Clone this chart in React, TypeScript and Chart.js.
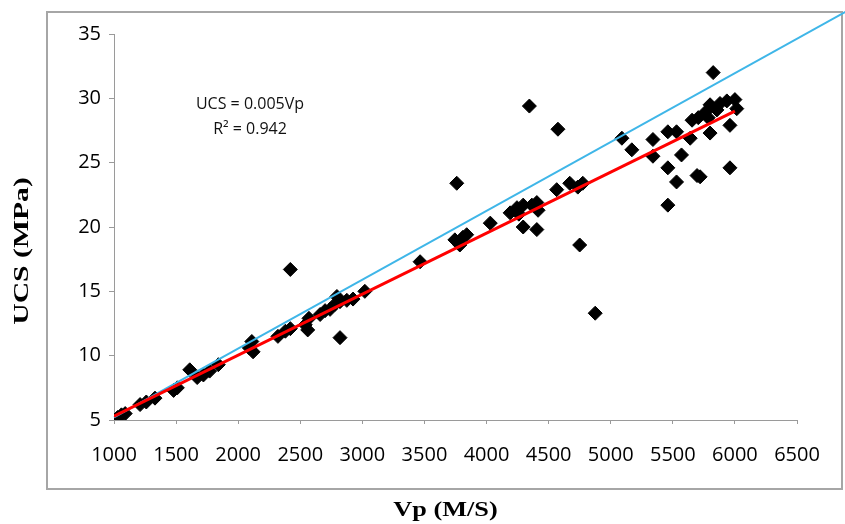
import React, { useEffect, useRef } from "react";
import { Chart, registerables } from "chart.js";

Chart.register(...registerables);

const vpValues = [
  1000, 1030, 1060, 1090, 1210, 1260, 1330, 1480, 1510, 1610, 1670, 1720, 1770, 1840,
  2090, 2110, 2120, 2320, 2380, 2420, 2420, 2540, 2560, 2570, 2660, 2700, 2740, 2780,
  2795, 2820, 2820, 2875, 2925, 3020, 3465, 3745, 3760, 3785, 3810, 3840, 4030, 4190,
  4245, 4260, 4295, 4295, 4345, 4365, 4405, 4405, 4415, 4565, 4575, 4670, 4735, 4750,
  4775, 4875, 5090, 5170, 5340, 5340, 5460, 5460, 5460, 5530, 5530, 5570, 5640, 5655,
  5695, 5720, 5705, 5760, 5785, 5800, 5800, 5825, 5855, 5880, 5935, 5960, 5960, 6000, 6015,
];
const ucsValues = [
  5.0, 5.2, 5.4, 5.5, 6.2, 6.4, 6.7, 7.3, 7.5, 8.9, 8.3, 8.5, 8.8, 9.3,
  10.6, 11.1, 10.3, 11.5, 11.9, 12.1, 16.7, 12.4, 12.0, 12.9, 13.2, 13.5, 13.6, 14.0,
  14.6, 14.2, 11.4, 14.3, 14.4, 15.0, 17.3, 19.0, 23.4, 18.6, 19.2, 19.4, 20.3, 21.1,
  21.5, 21.0, 21.7, 20.0, 29.4, 21.7, 21.9, 19.8, 21.3, 22.9, 27.6, 23.4, 23.1, 18.6,
  23.4, 13.3, 26.9, 26.0, 26.8, 25.5, 27.4, 24.6, 21.7, 27.4, 23.5, 25.6, 26.9, 28.3,
  24.0, 23.9, 28.5, 28.9, 28.5, 29.5, 27.3, 32.0, 29.1, 29.6, 29.8, 27.9, 24.6, 29.9, 29.2,
];

// regression (red) line endpoints
const fitVp = [1000, 6000];
const fitUcs = [5.3, 29.0];
// reference (blue) line endpoints
const refVp = [1000, 7000];
const refUcs = [5.2, 37.3];

const xTicks = { min: 1000, max: 6500, step: 500 };
const yTicks = { min: 5, max: 35, step: 5 };

const xTitle = "Vp (M/S)";
const yTitle = "UCS (MPa)";
const eqLine1 = "UCS = 0.005Vp";
const eqLine2 = "R\u00B2 = 0.942";

const decorPlugin = {
  id: "decor",
  beforeDraw(chart: any) {
    const ctx = chart.ctx;
    ctx.save();
    ctx.fillStyle = "#ffffff";
    ctx.fillRect(0, 0, chart.width, chart.height);
    ctx.strokeStyle = "#a6a6a6";
    ctx.lineWidth = 2;
    ctx.strokeRect(47, 12, 795, 477);
    ctx.restore();
  },
  afterDraw(chart: any) {
    const ctx = chart.ctx;
    const area = chart.chartArea;
    ctx.save();
    ctx.fillStyle = "#111";
    ctx.font = "16px 'Open Sans'";
    ctx.textAlign = "center";
    ctx.textBaseline = "middle";
    ctx.fillText(eqLine1, 250, 104);
    ctx.fillText(eqLine2, 250, 129);
    ctx.fillStyle = "#000";
    ctx.font = "bold 21px 'Liberation Serif'";
    ctx.save();
    ctx.translate((area.left + area.right) / 2 - 10, 511);
    ctx.scale(1.25, 1);
    ctx.fillText(xTitle, 0, 0);
    ctx.restore();
    ctx.font = "bold 22px 'Liberation Serif'";
    ctx.save();
    ctx.translate(22, 251);
    ctx.rotate(-Math.PI / 2);
    ctx.scale(1.35, 1);
    ctx.fillText(yTitle, 0, 0);
    ctx.restore();
    ctx.restore();
  },
};

export default function App() {
  const ref = useRef<HTMLCanvasElement>(null);
  useEffect(() => {
    const canvas = ref.current;
    if (!canvas) return;
    const pts = vpValues.map((v, i) => ({ x: v, y: ucsValues[i] }));
    const fit = fitVp.map((v, i) => ({ x: v, y: fitUcs[i] }));
    const refl = refVp.map((v, i) => ({ x: v, y: refUcs[i] }));
    const axisGrey = "#9a9a9a";
    const chart = new Chart(canvas, {
      type: "scatter",
      data: {
        datasets: [
          {
            label: "fit",
            data: fit,
            showLine: true,
            borderColor: "#ff0000",
            borderWidth: 3,
            pointRadius: 0,
            order: 0,
          } as any,
          {
            label: "ref",
            data: refl,
            showLine: true,
            borderColor: "#3fb6e8",
            borderWidth: 2,
            pointRadius: 0,
            order: 1,
            clip: false,
          } as any,
          {
            label: "data",
            data: pts,
            pointStyle: "rectRot",
            pointRadius: 7,
            backgroundColor: "#000",
            borderColor: "#000",
            borderWidth: 1,
            order: 2,
          } as any,
        ],
      },
      options: {
        animation: false,
        responsive: false,
        devicePixelRatio: 1,
        layout: { padding: { left: 0, top: 34, right: 48, bottom: 0 } },
        plugins: { legend: { display: false }, tooltip: { enabled: false } },
        scales: {
          x: {
            type: "linear",
            min: xTicks.min,
            max: xTicks.max,
            afterFit: (s: any) => {
              s.height = 104;
            },
            ticks: {
              stepSize: xTicks.step,
              padding: 19,
              color: "#000",
              font: { family: "'Open Sans'", size: 20 },
              maxRotation: 0,
              callback: (v: any) => String(v),
            },
            grid: { drawOnChartArea: false, drawTicks: true, tickLength: 4, color: axisGrey },
            border: { display: true, color: axisGrey, width: 1 },
          },
          y: {
            type: "linear",
            min: yTicks.min,
            max: yTicks.max,
            afterFit: (s: any) => {
              s.width = 114;
            },
            ticks: {
              stepSize: yTicks.step,
              padding: 8,
              color: "#000",
              font: { family: "'Open Sans'", size: 20 },
              callback: (v: any) => String(v),
            },
            grid: { drawOnChartArea: false, drawTicks: true, tickLength: 5, color: axisGrey },
            border: { display: true, color: axisGrey, width: 1 },
          },
        },
      },
      plugins: [decorPlugin],
    });
    return () => chart.destroy();
  }, []);
  return (
    <div style={{ position: "absolute", left: 0, top: 0, width: 845, height: 524 }}>
      <canvas ref={ref} width={845} height={524} style={{ width: 845, height: 524, display: "block" }} />
    </div>
  );
}
